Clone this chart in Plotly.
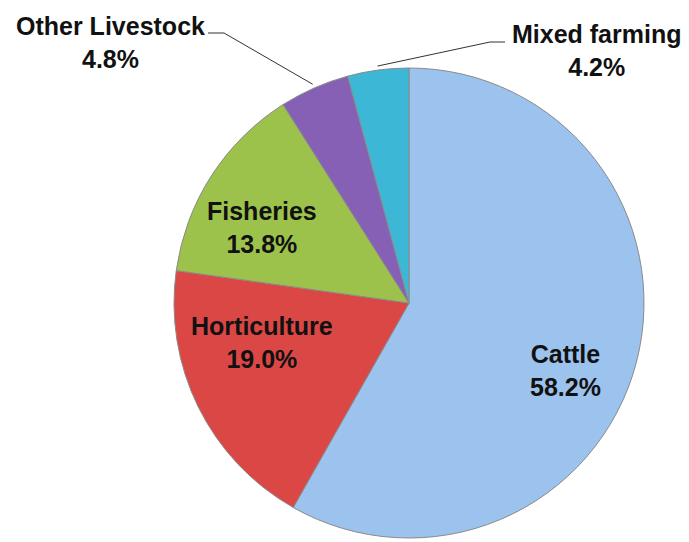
import math
import plotly.graph_objects as go

categories = ["Cattle", "Horticulture", "Fisheries", "Other Livestock", "Mixed farming"]
shares = [58.2, 19.0, 13.8, 4.8, 4.2]
colors = ["#9CC2EE", "#DB4744", "#9CC24C", "#8660B5", "#3DB7D6"]

W, H = 689, 542
CX, CY, R = 409, 303, 235
FONT = "Liberation Sans, Arial, sans-serif"
FS = 25

# label placement (pixel positions of text block centres)
label_pos = [(565, 370), (262, 342), (262, 227), (110, 42), (596, 51)]
# leader lines for outside labels: (start x, start y, elbow x)
leaders = {3: (208, 33, 224), 4: (505, 42, 490)}


def px(x):
    return x / W


def py(y):
    return 1 - y / H


fig = go.Figure(go.Pie(
    labels=categories,
    values=shares,
    sort=False,
    direction="clockwise",
    rotation=0,
    marker=dict(colors=colors, line=dict(color="#8a8a8a", width=1)),
    textposition="none",
    domain=dict(x=[px(CX - R), px(CX + R)], y=[py(CY + R), py(CY - R)]),
    showlegend=False,
    hoverinfo="label+percent",
))

total = sum(shares)
cum = 0
mids = []
for v in shares:
    mids.append((cum + v / 2) / total * 360)
    cum += v

annotations = []
shapes = []
for i, (cat, v) in enumerate(zip(categories, shares)):
    tx, ty = label_pos[i]
    annotations.append(dict(
        x=px(tx), y=py(ty), xref="paper", yref="paper",
        xanchor="center", yanchor="middle",
        text=f"<b>{cat}</b><br><b>{v / total:.1%}</b>",
        showarrow=False, font=dict(family=FONT, size=FS, color="#111111"),
        align="center",
    ))
    if i in leaders:
        sx, sy, ex_ = leaders[i]
        ang = math.radians(mids[i])
        rr = R + 4
        ex = CX + rr * math.sin(ang)
        ey = CY - rr * math.cos(ang)
        path = (f"M {px(sx)} {py(sy)} L {px(ex_)} {py(sy)} L {px(ex)} {py(ey)}")
        shapes.append(dict(
            type="path", xref="paper", yref="paper", path=path,
            line=dict(color="#333333", width=1),
        ))

fig.update_layout(
    width=W, height=H,
    margin=dict(l=0, r=0, t=0, b=0),
    paper_bgcolor="white",
    plot_bgcolor="white",
    annotations=annotations,
    shapes=shapes,
)

fig.write_html("out.html", config={"displayModeBar": False},
               post_script="document.body.style.margin='0';")
